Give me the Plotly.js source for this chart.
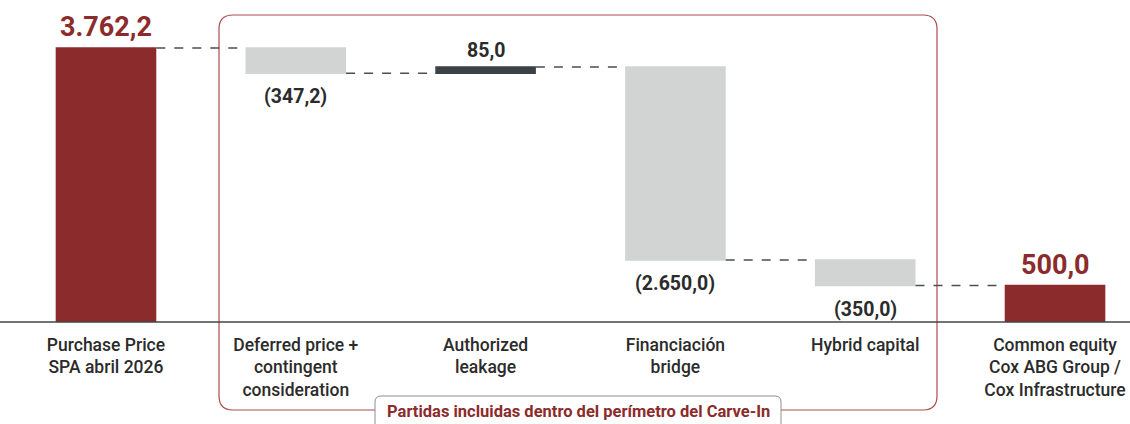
<!DOCTYPE html>
<html>
<head>
<meta charset="utf-8">
<script src="https://cdn.plot.ly/plotly-3.0.1.min.js"></script>
<style>html,body{margin:0;padding:0;background:#fff;}#chart{width:1130px;height:424px;}</style>
</head>
<body>
<div id="chart"></div>
<script>
// ---- data ----
const categories = [
  "Purchase Price<br>SPA abril 2026",
  "Deferred price +<br>contingent<br>consideration",
  "Authorized<br>leakage",
  "Financiación<br>bridge",
  "Hybrid capital",
  "Common equity<br>Cox ABG Group /<br>Cox Infrastructure"
];
const measures = ["absolute", "relative", "relative", "relative", "relative", "total"];
const values = [3762.2, -347.2, 85.0, -2650.0, -350.0, 0];
const valueLabels = ["3.762,2", "(347,2)", "85,0", "(2.650,0)", "(350,0)", "500,0"];
const boxLabel = "Partidas incluidas dentro del perímetro del Carve-In";

// ---- style ----
const RED = "#8B2B2C", LIGHT = "#D2D4D4", DARK = "#3B4145", TXT = "#2B2B2B";
const FONT = "Roboto, 'Liberation Sans', Arial, sans-serif";
const W = 1130, H = 424;
const M = {l: 5, r: 0, t: 0, b: 102};
const pw = W - M.l - M.r, ph = H - M.t - M.b;
const xr = [-0.532, 5.395];
const yr = [0, 4421];

// cumulative positions for labels
const idx = categories.map((_, i) => i);
let run = 0;
const ends = [], starts = [];
measures.forEach((m, i) => {
  if (m === "absolute") { starts.push(0); run = values[i]; ends.push(run); }
  else if (m === "relative") { starts.push(run); run += values[i]; ends.push(run); }
  else { starts.push(0); ends.push(run); }
});

const annotations = [];
measures.forEach((m, i) => {
  const isTot = m !== "relative";
  const up = isTot || values[i] > 0;
  const yv = up ? Math.max(starts[i], ends[i]) : Math.min(starts[i], ends[i]);
  annotations.push({
    x: idx[i], y: yv, xref: "x", yref: "y",
    text: valueLabels[i], showarrow: false,
    yanchor: up ? "bottom" : "top",
    yshift: up ? (isTot ? 3 : 3) : -10,
    font: {family: FONT, size: isTot ? 27 : 19.5, color: isTot ? RED : TXT, weight: "bold"}
  });
});

// helpers: pixel -> paper
const px = x => (x - M.l) / pw;
const py = y => 1 - (y - M.t) / ph;
function P(x, y) { return px(x).toFixed(5) + "," + py(y).toFixed(5); }

// rounded carve-in box
const bx0 = 219, bx1 = 937, by0 = 15, by1 = 410, r = 14;
const boxPath = "M " + P(bx0 + r, by0) + " L " + P(bx1 - r, by0) +
  " Q " + P(bx1, by0) + " " + P(bx1, by0 + r) +
  " L " + P(bx1, by1 - r) + " Q " + P(bx1, by1) + " " + P(bx1 - r, by1) +
  " L " + P(bx0 + r, by1) + " Q " + P(bx0, by1) + " " + P(bx0, by1 - r) +
  " L " + P(bx0, by0 + r) + " Q " + P(bx0, by0) + " " + P(bx0 + r, by0) + " Z";

// label box (open at bottom, rounded top corners)
const lx0 = 375, lx1 = 781, ly0 = 396, ly1 = 430, lr = 6;
const labelPath = "M " + P(lx0, ly1) + " L " + P(lx0, ly0 + lr) +
  " Q " + P(lx0, ly0) + " " + P(lx0 + lr, ly0) +
  " L " + P(lx1 - lr, ly0) + " Q " + P(lx1, ly0) + " " + P(lx1, ly0 + lr) +
  " L " + P(lx1, ly1) + " Z";

annotations.push({
  xref: "paper", yref: "paper", x: px((lx0 + lx1) / 2), y: py(411),
  text: boxLabel, showarrow: false, xanchor: "center", yanchor: "middle",
  font: {family: FONT, size: 16.5, color: RED, weight: "bold"}
});

const trace = {
  type: "waterfall",
  x: idx,
  y: values,
  measure: measures,
  width: 0.53,
  textinfo: "none",
  hoverinfo: "skip",
  increasing: {marker: {color: DARK}},
  decreasing: {marker: {color: LIGHT}},
  totals: {marker: {color: RED}},
  connector: {mode: "between", line: {color: "#4A4F55", width: 1.5, dash: "dash"}}
};

const layout = {
  width: W, height: H,
  margin: M,
  paper_bgcolor: "#fff", plot_bgcolor: "rgba(0,0,0,0)",
  showlegend: false,
  xaxis: {
    range: xr, tickmode: "array", tickvals: idx, ticktext: categories,
    showgrid: false, zeroline: false, showline: false, ticks: "",
    ticklabelstandoff: 10,
    tickfont: {family: FONT, size: 17.5, color: TXT, weight: 500},
    fixedrange: true
  },
  yaxis: {
    range: yr, visible: false, showgrid: false, zeroline: false, fixedrange: true
  },
  shapes: [
    {type: "path", xref: "paper", yref: "paper", path: boxPath,
     line: {color: "#B04A4E", width: 1.2}, fillcolor: "rgba(0,0,0,0)", layer: "below"},
    {type: "path", xref: "paper", yref: "paper", path: labelPath,
     line: {color: "#8E8E8E", width: 1}, fillcolor: "#ffffff", layer: "above"},
    {type: "line", xref: "paper", yref: "paper", x0: -0.01, x1: 1, y0: 0, y1: 0,
     line: {color: "#444", width: 1.6}, layer: "above"}
  ],
  annotations: annotations
};

Plotly.newPlot("chart", [trace], layout, {displayModeBar: false, staticPlot: true});
</script>
</body>
</html>
